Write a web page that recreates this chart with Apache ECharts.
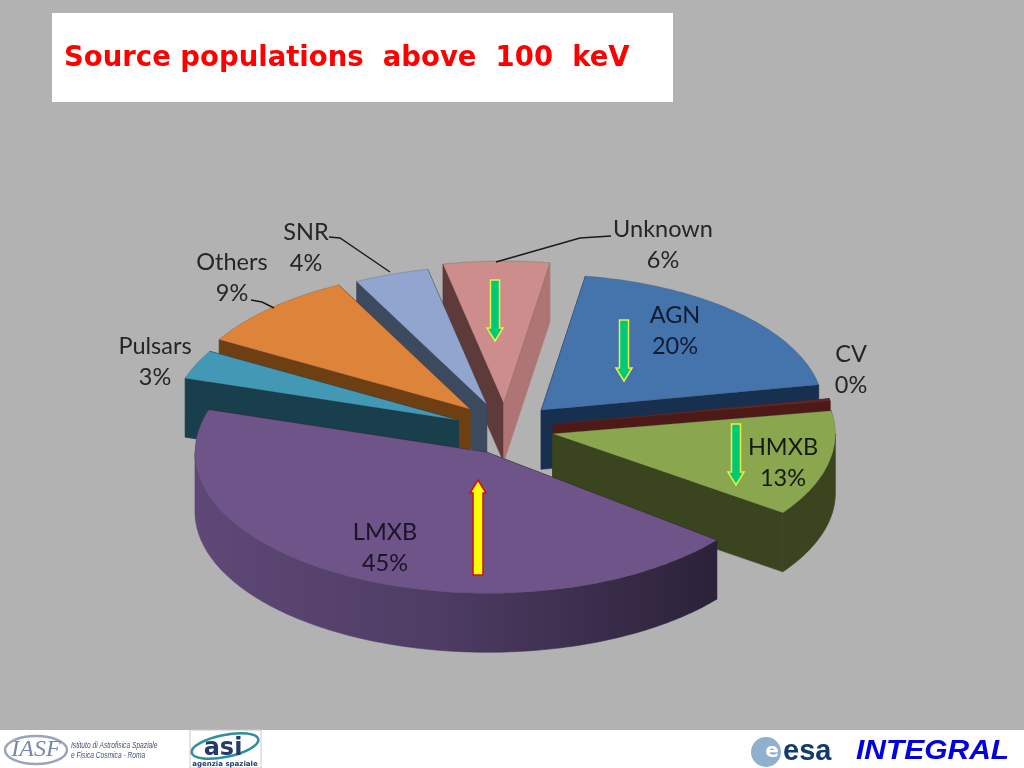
<!DOCTYPE html>
<html>
<head>
<meta charset="utf-8">
<style>html,body{margin:0;padding:0;background:#B2B2B2}#c{width:1024px;height:768px}</style>
<script src="https://cdn.jsdelivr.net/npm/echarts@6/dist/echarts.min.js"></script>
</head>
<body>
<div id="c"></div>
<script>
const titleText = 'Source populations  above  100  keV';
const categories = ['AGN','CV','HMXB','LMXB','Pulsars','Others','SNR','Unknown'];
const shares = [19.5,0.3,12.6,45.1,3.4,9.2,4.2,5.8];
const topColors  = ['#4573AC','#632523','#8AA64F','#6F5489','#4298B5','#DD833A','#91A5CF','#CC8D8C'];
const wallColors = ['#17304F','#4E1A18','#3A451F','#2B2138','#1A3F4C','#6F3F14','#3C4A60','#5F3A3B'];
const wallEndColors = ['#17304F','#4E1A18','#3A451F','#2B2138','#1A3F4C','#6F3F14','#3C4A60','#AE7574'];
const labelColors = ['#101C33','#262626','#151A0C','#1A1426','#262626','#262626','#262626','#262626'];
const paintOrder = [7,6,5,4,0,1,2,3];
const sliceNudge = [[5,1,0.985,0],[2,3,0.98,0],[2,4,0.985,0],[11,8,1.02,3],[6,4,1,0],[6,0,1.01,0],[4,0,1,0],[5,0,1.03,0]];
const labelSpots = [[675,331],[851,370],[783,463],[385,548],[155,362],[232,278],[306,248],[663,245]];
const leaderLines = [
  [[329,237],[340,238],[390,272]],
  [[251,300],[262,302],[274,308]],
  [[611,236],[580,238],[496,262]]
];
const downArrows = [[495,280,341],[624,320,381],[736,424,485]];
const upArrows = [[478,480,575]];

const CX=500, CY=425, RX=287, RY=138, DEPTH=59, EXPLODE=52, TILT=0.42, START=9;
const total = shares.reduce((a,b)=>a+b,0);
let acc = START;
const spans = shares.map(v=>{const s=acc; acc+=v/total*360; return [s,acc];});
const rad = d=>d*Math.PI/180;

const rows = paintOrder.map((i,p)=>[spans[i][0],spans[i][1],i,p]);

function renderSlice(params, api){
  const i=api.value(2), p=api.value(3);
  const a1=api.value(1), raw0=api.value(0);
  const m=rad((raw0+a1)/2);
  const nudge=sliceNudge[i];
  const a0=raw0+nudge[3];
  const ax=CX+EXPLODE*Math.sin(m)+nudge[0], ay=CY-EXPLODE*TILT*Math.cos(m)+nudge[1];
  const rx=RX*nudge[2], ry=RY*nudge[2];
  const at=d=>[ax+rx*Math.sin(rad(d)), ay-ry*Math.cos(rad(d))];
  const rim=[], front=[];
  const n=Math.max(2,Math.ceil(a1-a0));
  for(let k=0;k<=n;k++){
    const d=a0+(a1-a0)*k/n;
    rim.push(at(d));
    if(d>=90 && d<=270) front.push(at(d));
  }
  const first=rim[0], last=rim[rim.length-1];
  const down=pt=>[pt[0],pt[1]+DEPTH];
  const poly=(pts,fill,z)=>({type:'polygon',shape:{points:pts},z2:p*10+z,
    style:{fill:fill,stroke:fill,lineWidth:0.6}});
  const rimFill = categories[i]==='LMXB'
    ? new echarts.graphic.LinearGradient(0,0,1,0,[
        {offset:0,color:'#5F4877'},{offset:0.45,color:'#4F3D65'},{offset:1,color:'#2B2138'}])
    : wallColors[i];
  const kids=[
    poly([first,[ax,ay],[ax,ay+DEPTH],down(first)],wallColors[i],1),
    poly([last,[ax,ay],[ax,ay+DEPTH],down(last)],wallEndColors[i],2)
  ];
  if(front.length>1) kids.push(poly(front.concat(front.slice().reverse().map(down)),rimFill,3));
  kids.push({type:'polygon',shape:{points:[[ax,ay]].concat(rim)},z2:p*10+4,
      style:{fill:topColors[i],stroke:'rgba(60,60,60,0.35)',lineWidth:0.6}});
  return {type:'group',children:kids};
}
function renderLabel(params, api){
  const i=api.value(0);
  return {type:'text',z2:200,style:{
    text:categories[i]+'\n'+Math.round(shares[i])+'%',
    x:labelSpots[i][0],y:labelSpots[i][1],align:'center',verticalAlign:'middle',
    font:'23.5px Lato, "Open Sans", sans-serif',lineHeight:31,fill:labelColors[i]}};
}
function arrow(x,tip,tail,up,fill,stroke,hw,sw){
  const dir=up?1:-1, neck=tip+dir*13;
  return {type:'polygon',z:20,shape:{points:[[x,tip],[x+hw,neck],[x+sw,neck],[x+sw,tail],[x-sw,tail],[x-sw,neck],[x-hw,neck]]},
    style:{fill:fill,stroke:stroke,lineWidth:1.5}};
}
const g=[];
g.push({type:'rect',z:1,shape:{x:52,y:13,width:621,height:89},style:{fill:'#fff'}});
g.push({type:'text',z:2,style:{text:titleText,x:64,y:59,verticalAlign:'middle',font:'bold 27.5px "DejaVu Sans", sans-serif',fill:'#FF0000'}});
g.push({type:'rect',z:1,shape:{x:0,y:730,width:1024,height:38},style:{fill:'#fff'}});
leaderLines.forEach(l=>g.push({type:'polyline',z:15,shape:{points:l},style:{stroke:'#1a1a1a',lineWidth:1.4,fill:null}}));
downArrows.forEach(a=>g.push(arrow(a[0],a[2],a[1],false,'#00C878','#E6F23C',8,4.5)));
upArrows.forEach(a=>g.push(arrow(a[0],a[1],a[2],true,'#FFFF00','#D01010',8,5)));
// footer marks
g.push({type:'ellipse',z:2,shape:{cx:36,cy:750,rx:31,ry:14},style:{fill:null,stroke:'#9AA6BD',lineWidth:2.5}});
g.push({type:'text',z:3,style:{text:'IASF',x:36,y:750,align:'center',verticalAlign:'middle',font:'italic 24px "Liberation Serif", serif',fill:'#7A88A8'}});
g.push({type:'text',z:3,x:71,y:750,scaleX:0.7,style:{text:'Istituto di Astrofisica Spaziale\ne Fisica Cosmica - Roma',x:0,y:0,verticalAlign:'middle',font:'italic 9.5px "Liberation Sans",sans-serif',lineHeight:10,fill:'#44507A'}});
g.push({type:'rect',z:2,shape:{x:190,y:730,width:71,height:38},style:{fill:'#fff',stroke:'#C8C8C8',lineWidth:1}});
g.push({type:'ellipse',z:3,shape:{cx:225,cy:746,rx:34,ry:11},style:{fill:null,stroke:'#2E8FA0',lineWidth:2.5},rotation:0.2,originX:225,originY:746});
g.push({type:'text',z:4,style:{text:'asi',x:223,y:749,align:'center',verticalAlign:'middle',font:'bold 24px "DejaVu Sans", sans-serif',fill:'#223A6E'}});
g.push({type:'text',z:4,style:{text:'agenzia spaziale',x:225,y:764,align:'center',verticalAlign:'middle',font:'bold 7px "DejaVu Sans", sans-serif',fill:'#223A6E'}});
g.push({type:'circle',z:2,shape:{cx:766,cy:752,r:15},style:{fill:'#8FB0CE'}});
g.push({type:'text',z:3,style:{text:'e',x:772,y:752,align:'center',verticalAlign:'middle',font:'bold 20px "DejaVu Sans", sans-serif',fill:'#fff'}});
g.push({type:'text',z:3,style:{text:'esa',x:783,y:752,verticalAlign:'middle',font:'bold 29px "Liberation Sans", sans-serif',fill:'#123A72'}});
g.push({type:'text',z:3,x:856,y:752,scaleX:1.11,style:{text:'INTEGRAL',x:0,y:0,verticalAlign:'middle',font:'italic bold 27px "Liberation Sans", sans-serif',fill:'#0000E0'}});

const chart=echarts.init(document.getElementById('c'),null,{renderer:'canvas',width:1024,height:768});
chart.setOption({
  animation:false,
  backgroundColor:'#B2B2B2',
  graphic:g,
  series:[
    {type:'custom',coordinateSystem:'none',renderItem:renderSlice,data:rows,silent:true,z:5},
    {type:'custom',coordinateSystem:'none',renderItem:renderLabel,data:categories.map((c,i)=>[i]),silent:true,z:10}
  ]
});
</script>
</body>
</html>
